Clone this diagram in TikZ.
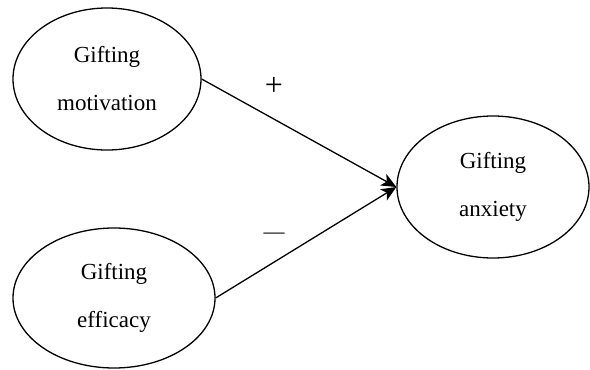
\documentclass[tikz,border=0pt]{standalone}
\usepackage{fontspec}
\setmainfont{Liberation Serif}
\usetikzlibrary{arrows.meta,shapes.geometric}
\begin{document}
\begin{tikzpicture}[x=1pt,y=-1pt,
  construct/.style={ellipse,draw,line width=1.3pt,inner sep=0pt,align=center,
    font=\fontsize{23}{48}\selectfont},
  path/.style={line width=1.3pt,-{Stealth[length=15pt,width=13pt,inset=4pt]}},
  sign/.style={inner sep=0pt}]
  \useasboundingbox (0,0) rectangle (590,370);
  \node[construct,minimum width=188pt,minimum height=142pt] (mot) at (107,79) {Gifting\\motivation};
  \node[construct,minimum width=202pt,minimum height=140pt] (eff) at (114,298) {Gifting\\efficacy};
  \node[construct,minimum width=192pt,minimum height=142pt] (anx) at (493,187) {Gifting\\anxiety};
  \draw[path] (mot.east) -- (anx.west);
  \draw[path] (eff.east) -- (anx.west);
  \node[sign,font=\fontsize{32}{34}\selectfont] (plus) at (274,86) {+};
  \node[sign,font=\fontsize{21}{24}\selectfont] (minus) at (274,236) {—};
\end{tikzpicture}
\end{document}
